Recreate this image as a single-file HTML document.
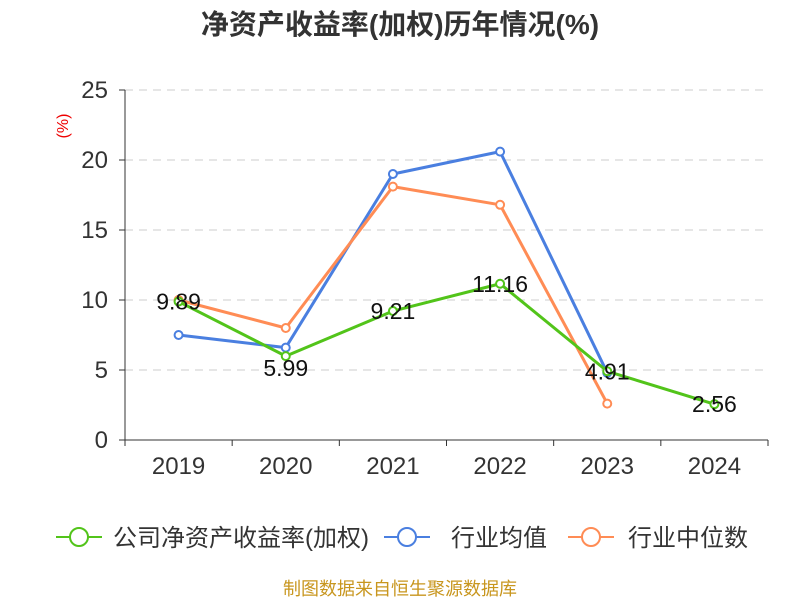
<!DOCTYPE html>
<html><head><meta charset="utf-8"><style>
body{margin:0;background:#fff;}
svg{display:block;font-family:"Liberation Sans","Noto Sans CJK SC",sans-serif;}
</style></head><body>
<svg id="c" width="800" height="600">
<text x="400" y="34" text-anchor="middle" font-size="28" font-weight="bold" fill="#333">净资产收益率(加权)历年情况(%)</text>
<text x="68" y="126" text-anchor="middle" font-size="16" fill="#e00" transform="rotate(-90 68 126)">(%)</text>
<g id="grid"></g><g id="axes"></g><g id="series"></g><g id="labels"></g>
<g>
<g><line x1="56" y1="537" x2="102" y2="537" stroke="#52c41a" stroke-width="2"/><circle cx="79" cy="537" r="9" fill="#fff" stroke="#52c41a" stroke-width="2"/><text x="113" y="546" font-size="24" fill="#333">公司净资产收益率(加权)</text></g>
<g><line x1="384" y1="537" x2="430" y2="537" stroke="#4a7fe0" stroke-width="2"/><circle cx="407" cy="537" r="9" fill="#fff" stroke="#4a7fe0" stroke-width="2"/><text x="451" y="546" font-size="24" fill="#333">行业均值</text></g>
<g><line x1="568" y1="537" x2="614" y2="537" stroke="#ff8c55" stroke-width="2"/><circle cx="591" cy="537" r="9" fill="#fff" stroke="#ff8c55" stroke-width="2"/><text x="628" y="546" font-size="24" fill="#333">行业中位数</text></g>
</g>
<text x="400" y="595" text-anchor="middle" font-size="18" fill="#c8961e">制图数据来自恒生聚源数据库</text>
</svg>
<script>
const categories=["2019","2020","2021","2022","2023","2024"];
const companyValues=[9.89,5.99,9.21,11.16,4.91,2.56];
const industryMean=[7.5,6.6,19.0,20.6,4.8,null];
const industryMedian=[10.0,8.0,18.1,16.8,2.6,null];
const yTicks=[0,5,10,15,20,25];
const NS="http://www.w3.org/2000/svg";
const L=125,R=768,T=90,B=440,yMax=25;
const bw=(R-L)/categories.length;
const xs=i=>L+bw*(i+0.5);
const ys=v=>B-(v/yMax)*(B-T);
function mk(p,tag,a){const e=document.createElementNS(NS,tag);for(const k in a)e.setAttribute(k,a[k]);document.getElementById(p).appendChild(e);return e;}
yTicks.forEach(t=>{
 if(t>0){const g=mk("grid","line",{x1:L,x2:R,y1:ys(t),y2:ys(t),stroke:"#ccc","stroke-dasharray":"8,6"});
 
 }
 const tk=mk("axes","line",{x1:L-6,x2:L,y1:ys(t),y2:ys(t),stroke:"#333"});
 
 
 const tx=mk("axes","text",{x:L-17,y:ys(t)+8,"text-anchor":"end","font-size":"24",fill:"#333"});tx.textContent=t;
 
 
});
const ya=mk("axes","line",{x1:L,x2:L,y1:T,y2:B,stroke:"#333"});


const xa=mk("axes","line",{x1:L,x2:R,y1:B,y2:B,stroke:"#333"});


for(let i=0;i<=categories.length;i++){const t=mk("axes","line",{x1:L+bw*i,x2:L+bw*i,y1:B,y2:B+6,stroke:"#333"});
 
 }
categories.forEach((c,i)=>{const t=mk("axes","text",{x:xs(i),y:B+34,"text-anchor":"middle","font-size":"24",fill:"#333"});t.textContent=c;
 
 });
function series(vals,color,name){
 const pts=vals.map((v,i)=>v==null?null:[xs(i),ys(v)]).filter(p=>p);
 const pl=mk("series","polyline",{points:pts.map(p=>p.join(",")).join(" "),fill:"none",stroke:color,"stroke-width":"3","stroke-linejoin":"round"});
 
 
 pts.forEach(p=>{const c=mk("series","circle",{cx:p[0],cy:p[1],r:4,fill:"#fff",stroke:color,"stroke-width":"2"});
  
  });
}
series(industryMean,"#4a7fe0","industry-mean");
series(industryMedian,"#ff8c55","industry-median");
series(companyValues,"#52c41a","company");
companyValues.forEach((v,i)=>{
 const below=i===1;
 const t=mk("labels","text",{x:xs(i),y:below?ys(v)+20:ys(v)+8,"text-anchor":"middle","font-size":"23",fill:"#111"});
 t.textContent=v.toFixed(2);
 
 
});
</script>
</body></html>
